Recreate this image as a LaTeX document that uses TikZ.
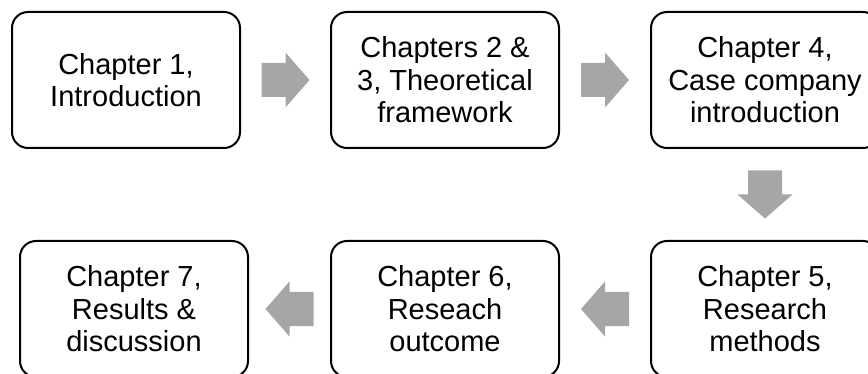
\documentclass[tikz,border=0pt]{standalone}
\usepackage{fontspec}
\setmainfont{Liberation Sans}
\usetikzlibrary{calc}
\definecolor{arrowgray}{RGB}{166,166,166}
\tikzset{
  chapbox/.style={draw=black, line width=2pt, rounded corners=16pt,
    minimum width=228pt, minimum height=136pt, align=center,
    font=\fontsize{29}{32.5}\selectfont, inner sep=0pt},
  blockarrow/.pic={
    \fill[arrowgray] (-24,-17) -- (0,-17) -- (0,-27.5) -- (24,0)
      -- (0,27.5) -- (0,17) -- (-24,17) -- cycle;}
}
\begin{document}
\begin{tikzpicture}[x=1pt,y=-1pt]
\useasboundingbox (0,0) rectangle (868,374);
% top row, read left to right
\node[chapbox] (c1) at (126,80) {Chapter 1,\\Introduction};
\node[chapbox] (c2) at (445,80) {Chapters 2 \&\\3, Theoretical\\framework};
\node[chapbox] (c3) at (765,80) {Chapter 4,\\Case company\\introduction};
% bottom row, read right to left
\node[chapbox] (c5) at (765,309) {Chapter 5,\\Research\\methods};
\node[chapbox] (c6) at (445,309) {Chapter 6,\\Reseach\\outcome};
\node[chapbox] (c7) at (134,309) {Chapter 7,\\Results \&\\discussion};
% block arrows between consecutive chapters
\pic at ($(c1.east)!0.5!(c2.west)$) {blockarrow};
\pic at ($(c2.east)!0.5!(c3.west)$) {blockarrow};
\pic[rotate=-90] at ($(c3.south)!0.5!(c5.north)$) {blockarrow};
\pic[rotate=180] at ($(c5.west)!0.5!(c6.east)$) {blockarrow};
\pic[rotate=180] at ($(c6.west)!0.5!(c7.east)$) {blockarrow};
\end{tikzpicture}
\end{document}
